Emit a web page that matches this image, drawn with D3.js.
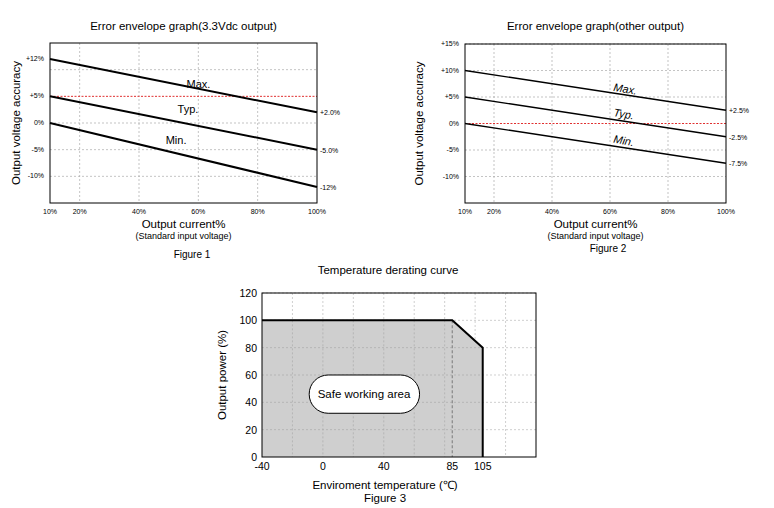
<!DOCTYPE html>
<html><head><meta charset="utf-8">
<script src="https://cdn.jsdelivr.net/npm/d3@7"></script>
<style>body{margin:0;background:#fff}text{font-family:Arial,"Liberation Sans",sans-serif}</style>
</head><body><svg id="c" width="774" height="508"></svg>
<script>
const currentTicks = [10, 20, 40, 60, 80, 100];
const fig1Ticks = [12, 5, 0, -5, -10];
const fig1Grid = [10, 5, 0, -5, -10];
const fig1Max = [12, 2], fig1Typ = [5, -5], fig1Min = [0, -12];
const fig1End = ["+2.0%", "-5.0%", "-12%"];
const fig2Ticks = [15, 10, 5, 0, -5, -10];
const fig2Max = [10, 2.5], fig2Typ = [5, -2.5], fig2Min = [0, -7.5];
const fig2End = ["+2.5%", "-2.5%", "-7.5%"];
const tempTicks = [-40, 0, 40, 85, 105];
const tempGrid = [-20, 0, 20, 40, 60, 80, 100, 120];
const powerTicks = [0, 20, 40, 60, 80, 100, 120];
const derating = [[-40, 0], [-40, 100], [85, 100], [105, 80], [105, 0]];

const svg = d3.select("#c");
const fmt = v => (v > 0 ? "+" : "") + v + "%";

function envelope(o) {
  const x = d3.scaleLinear().domain([10, 100]).range([o.x0, o.x1]);
  const y = d3.scaleLinear().domain([-15, 15]).range([o.y1, o.y0]);
  const g = svg.append("g");
  g.append("text").attr("x", (o.x0 + o.x1) / 2).attr("y", 30).attr("text-anchor", "middle")
    .attr("font-size", 11.5).text(o.title);
  g.selectAll(".vg").data(currentTicks.slice(1, -1)).join("line")
    .attr("x1", d => x(d)).attr("x2", d => x(d)).attr("y1", o.y0).attr("y2", o.y1)
    .attr("stroke", "#aaa").attr("stroke-dasharray", "2,2").attr("stroke-width", 0.7);
  g.selectAll(".hg").data(o.grid.filter(d => d !== o.red)).join("line")
    .attr("x1", o.x0).attr("x2", o.x1).attr("y1", d => y(d)).attr("y2", d => y(d))
    .attr("stroke", "#aaa").attr("stroke-dasharray", "2,2").attr("stroke-width", 0.7);
  g.append("line").attr("x1", o.x0).attr("x2", o.x1).attr("y1", y(o.red)).attr("y2", y(o.red))
    .attr("stroke", "#e03030").attr("stroke-dasharray", "2,1.5").attr("stroke-width", 1);
  g.append("rect").attr("x", o.x0).attr("y", o.y0).attr("width", o.x1 - o.x0).attr("height", o.y1 - o.y0)
    .attr("fill", "none").attr("stroke", "#000").attr("stroke-width", 1);
  const series = [o.max, o.typ, o.min];
  series.forEach((s, i) => {
    g.append("line").attr("x1", x(10)).attr("y1", y(s[0])).attr("x2", x(100)).attr("y2", y(s[1]))
      .attr("stroke", "#000").attr("stroke-width", o.sw);
    g.append("text").attr("x", x(100) + 3).attr("y", y(s[1]) + 3).attr("font-size", 7).text(o.end[i]);
  });
  g.selectAll(".yt").data(o.ticks).join("text")
    .attr("x", o.x0 - 6).attr("y", d => y(d) + 2).attr("text-anchor", "end").attr("font-size", 7).text(fmt);
  g.selectAll(".xt").data(currentTicks).join("text")
    .attr("x", d => x(d)).attr("y", o.y1 + 11).attr("text-anchor", "middle").attr("font-size", 7).text(d => d + "%");
  const lbl = ["Max.", "Typ.", "Min."];
  o.lpos.forEach((p, i) => {
    g.append("text").attr("font-size", 11).attr("font-style", o.italic ? "italic" : null)
      .attr("transform", `translate(${x(p[0])},${y(p[1])}) rotate(${o.italic ? 10 : 0})`).text(lbl[i]);
  });
  g.append("text").attr("x", (o.x0 + o.x1) / 2).attr("y", o.y1 + 25).attr("text-anchor", "middle")
    .attr("font-size", 11.5).text("Output current%");
  g.append("text").attr("x", (o.x0 + o.x1) / 2).attr("y", o.y1 + 36).attr("text-anchor", "middle")
    .attr("font-size", 9).text("(Standard input voltage)");
  g.append("text").attr("transform", `translate(${o.ylx},${(o.y0 + o.y1) / 2}) rotate(-90)`)
    .attr("text-anchor", "middle").attr("font-size", 11.5).text("Output voltage accuracy");
  g.append("text").attr("x", o.figx).attr("y", o.figy).attr("text-anchor", "middle")
    .attr("font-size", 10).text(o.fig);
}

envelope({x0: 50, x1: 317, y0: 43, y1: 203, title: "Error envelope graph(3.3Vdc output)",
  grid: fig1Grid, ticks: fig1Ticks, red: 5, max: fig1Max, typ: fig1Typ, min: fig1Min, end: fig1End,
  sw: 2, italic: false, lpos: [[56, 6.6], [53, 1.9], [49, -4]], ylx: 20, fig: "Figure 1", figx: 192, figy: 258});
envelope({x0: 465, x1: 726, y0: 44, y1: 203, title: "Error envelope graph(other output)",
  grid: fig2Ticks, ticks: fig2Ticks, red: 0, max: fig2Max, typ: fig2Typ, min: fig2Min, end: fig2End,
  sw: 1.4, italic: true, lpos: [[61, 6.2], [61, 1.4], [61, -3.6]], ylx: 423, fig: "Figure 2", figx: 608, figy: 252});

// Figure 3
const tx = d3.scaleLinear().domain([-40, 140]).range([262, 536]);
const py = d3.scaleLinear().domain([0, 120]).range([457, 293]);
const g3 = svg.append("g");
g3.append("text").attr("x", 388).attr("y", 274).attr("text-anchor", "middle").attr("font-size", 11.5)
  .text("Temperature derating curve");
g3.selectAll(".vg").data(tempGrid).join("line")
  .attr("x1", d => tx(d)).attr("x2", d => tx(d)).attr("y1", py(120)).attr("y2", py(0))
  .attr("stroke", "#bbb").attr("stroke-dasharray", "2,2").attr("stroke-width", 0.7);
g3.selectAll(".hg").data(powerTicks.slice(1)).join("line")
  .attr("x1", tx(-40)).attr("x2", tx(140)).attr("y1", d => py(d)).attr("y2", d => py(d))
  .attr("stroke", "#bbb").attr("stroke-dasharray", "2,2").attr("stroke-width", 0.7);
g3.append("path").attr("d", d3.line().x(d => tx(d[0])).y(d => py(d[1]))(derating) + "Z")
  .attr("fill", "#cfcfcf").attr("stroke", "none");
g3.selectAll(".vg2").data(tempGrid.filter(d => d < 85)).join("line")
  .attr("x1", d => tx(d)).attr("x2", d => tx(d)).attr("y1", py(100)).attr("y2", py(0))
  .attr("stroke", "#aaa").attr("stroke-dasharray", "2,2").attr("stroke-width", 0.7);
g3.selectAll(".hg2").data(powerTicks.slice(1, 5)).join("line")
  .attr("x1", tx(-40)).attr("x2", tx(105)).attr("y1", d => py(d)).attr("y2", d => py(d))
  .attr("stroke", "#aaa").attr("stroke-dasharray", "2,2").attr("stroke-width", 0.7);
g3.append("line").attr("x1", tx(85)).attr("x2", tx(85)).attr("y1", py(100)).attr("y2", py(0))
  .attr("stroke", "#888").attr("stroke-dasharray", "3,2").attr("stroke-width", 1.2);
g3.append("path").attr("d", d3.line().x(d => tx(d[0])).y(d => py(d[1]))(derating.slice(1)))
  .attr("fill", "none").attr("stroke", "#000").attr("stroke-width", 2);
g3.append("rect").attr("x", tx(-40)).attr("y", py(120)).attr("width", tx(140) - tx(-40)).attr("height", py(0) - py(120))
  .attr("fill", "none").attr("stroke", "#000").attr("stroke-width", 1);
g3.append("rect").attr("x", tx(-9)).attr("y", py(60)).attr("width", tx(63.5) - tx(-9)).attr("height", py(32) - py(60))
  .attr("rx", 19).attr("fill", "#fff").attr("stroke", "#000").attr("stroke-width", 1);
g3.append("text").attr("x", tx(27)).attr("y", py(46) + 4).attr("text-anchor", "middle").attr("font-size", 11.5)
  .text("Safe working area");
g3.selectAll(".yt").data(powerTicks).join("text")
  .attr("x", tx(-40) - 5).attr("y", d => py(d) + 4).attr("text-anchor", "end").attr("font-size", 10.5).text(d => d);
g3.selectAll(".xt").data(tempTicks).join("text")
  .attr("x", d => tx(d)).attr("y", py(0) + 13).attr("text-anchor", "middle").attr("font-size", 10.5).text(d => d);
g3.append("text").attr("x", 385).attr("y", 489).attr("text-anchor", "middle").attr("font-size", 11.5)
  .text("Enviroment temperature (℃)");
g3.append("text").attr("x", 385).attr("y", 502).attr("text-anchor", "middle").attr("font-size", 11.5).text("Figure 3");
g3.append("text").attr("transform", `translate(226,${py(60)}) rotate(-90)`).attr("text-anchor", "middle")
  .attr("font-size", 11.5).text("Output power (%)");
</script></body></html>
